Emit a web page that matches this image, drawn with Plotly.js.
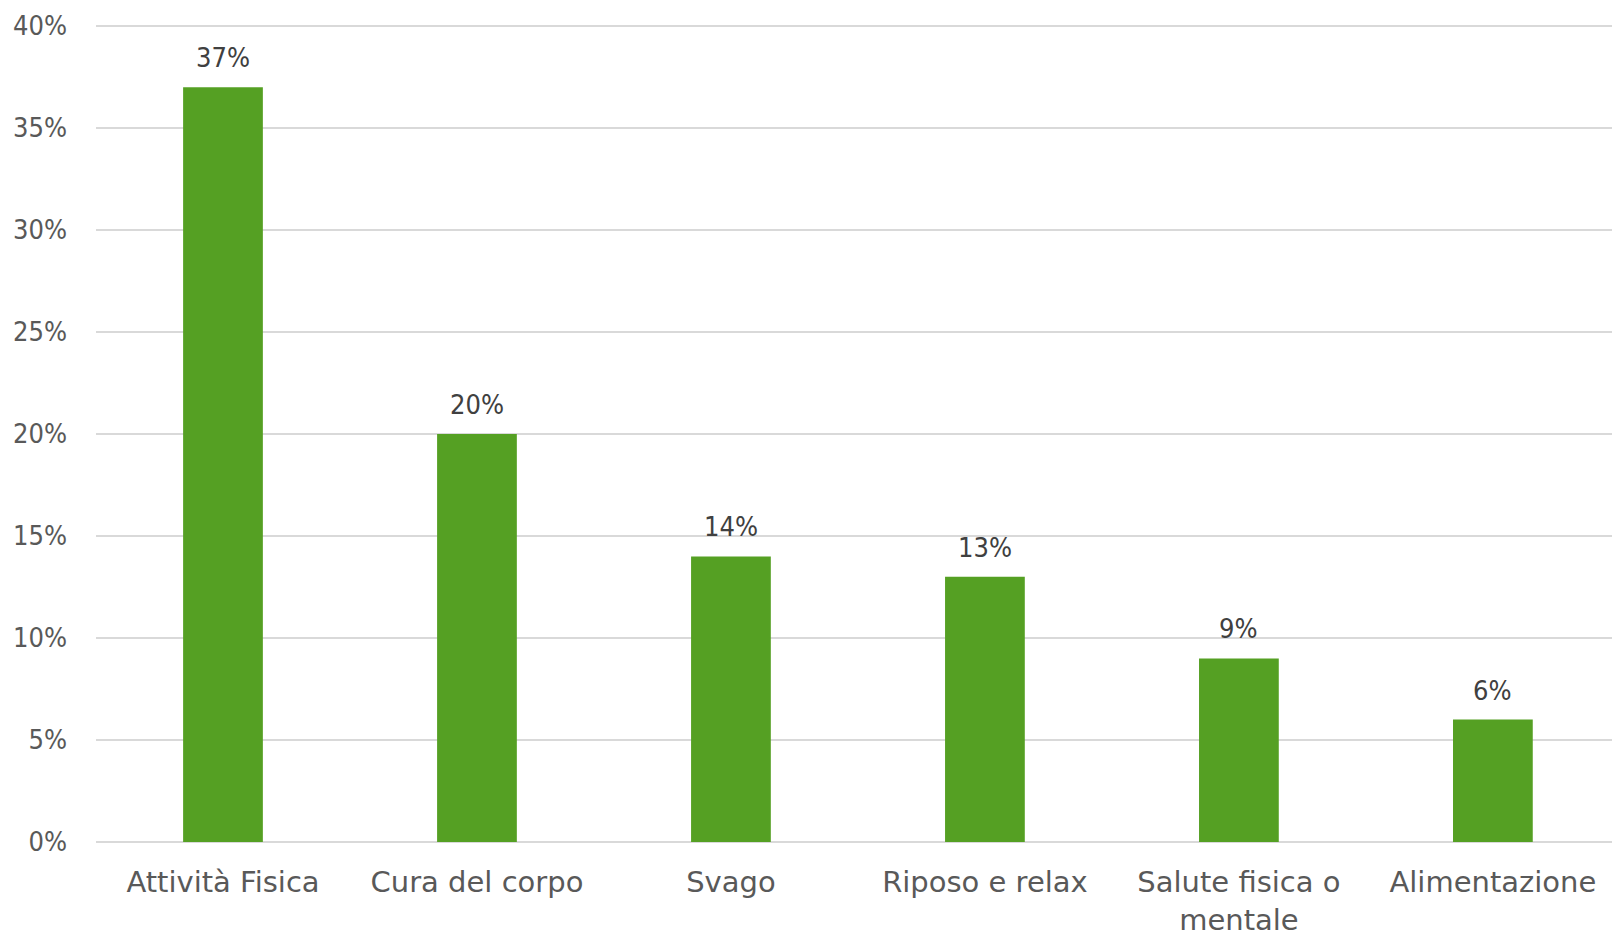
<!DOCTYPE html>
<html>
<head>
<meta charset="utf-8">
<script src="https://cdn.plot.ly/plotly-3.0.1.min.js"></script>
<style>html,body{margin:0;padding:0;background:#fff;}#chart{width:1612px;height:933px;}</style>
</head>
<body>
<div id="chart"></div>
<script>
const categories = ["Attività Fisica", "Cura del corpo", "Svago", "Riposo e relax", "Salute fisica o<br>mentale", "Alimentazione"];
const values = [37, 20, 14, 13, 9, 6];
const labels = ["37%", "20%", "14%", "13%", "9%", "6%"];
const yTickVals = [0, 5, 10, 15, 20, 25, 30, 35, 40];
const yTickText = ["0%", "5%", "10%", "15%", "20%", "25%", "30%", "35%", "40%"];

const FONT_NUM = "'DejaVu Sans Condensed', 'DejaVu Sans', sans-serif";
const FONT_CAT = "'DejaVu Sans', sans-serif";

const trace = {
  type: "bar",
  x: categories,
  y: values,
  marker: {color: "#55a023"},
  hoverinfo: "none"
};

const annotations = categories.map((c, i) => ({
  x: c, y: values[i], text: labels[i],
  xref: "x", yref: "y", showarrow: false,
  yanchor: "bottom", yshift: 12,
  font: {family: FONT_NUM, size: 27, color: "#404040"}
}));

const layout = {
  width: 1612, height: 933,
  margin: {l: 96, r: 0, t: 25, b: 91},
  paper_bgcolor: "#fff", plot_bgcolor: "#fff",
  bargap: 0.686,
  showlegend: false,
  font: {family: FONT_NUM, color: "#595959", size: 27},
  xaxis: {
    type: "category",
    range: [-0.5, 5.469],
    showgrid: false, zeroline: false, showline: false,
    ticks: "", ticklabelstandoff: 20,
    tickfont: {family: FONT_CAT, size: 29, color: "#595959"}
  },
  yaxis: {
    range: [0, 40.05],
    tickvals: yTickVals, ticktext: yTickText,
    showgrid: true, gridcolor: "#d9d9d9", gridwidth: 1.5,
    zeroline: true, zerolinecolor: "#d9d9d9", zerolinewidth: 1.5,
    showline: false, ticks: "", ticklabelstandoff: 28,
    tickfont: {family: FONT_NUM, size: 27, color: "#595959"}
  },
  annotations: annotations
};

Plotly.newPlot("chart", [trace], layout, {displayModeBar: false, staticPlot: true});
</script>
</body>
</html>
